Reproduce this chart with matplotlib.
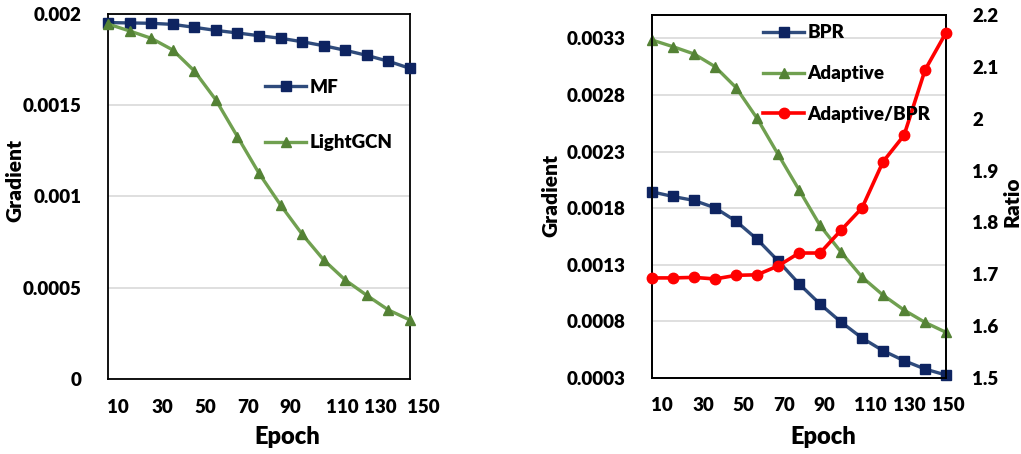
import matplotlib
matplotlib.use("Agg")
import matplotlib.pyplot as plt
import matplotlib.transforms as mtransforms

plt.rcParams["font.family"] = ["Lato", "DejaVu Sans"]
plt.rcParams["font.weight"] = "heavy"
plt.rcParams["axes.labelweight"] = "heavy"

# data
epochs = [10, 20, 30, 40, 50, 60, 70, 80, 90, 100, 110, 120, 130, 140, 150]
mf = [0.001953, 0.001951, 0.001949, 0.001943, 0.001927, 0.001910, 0.001896, 0.001881,
      0.001867, 0.001848, 0.001826, 0.001801, 0.001773, 0.001741, 0.001702]
lightgcn = [0.001945, 0.001907, 0.001867, 0.001803, 0.001688, 0.001529, 0.001328, 0.001127,
            0.000953, 0.000793, 0.000652, 0.000542, 0.000458, 0.000378, 0.000323]
bpr = [0.001944, 0.001903, 0.001868, 0.001803, 0.001685, 0.001526, 0.001335, 0.001132,
       0.000953, 0.000794, 0.000653, 0.000541, 0.000453, 0.000379, 0.000326]
adaptive = [0.003285, 0.003226, 0.003162, 0.003050, 0.002865, 0.002594, 0.002276, 0.001962,
            0.001647, 0.001412, 0.001191, 0.001032, 0.000900, 0.000791, 0.000703]
ratio = [1.693, 1.693, 1.694, 1.691, 1.698, 1.699, 1.716, 1.741,
         1.741, 1.785, 1.828, 1.917, 1.968, 2.094, 2.166]

x_labels = ["10", "30", "50", "70", "90", "110", "130", "150"]
# the epoch labels sit as loose text boxes, slightly off the points
left_label_pos = [14.6, 35.0, 55.0, 74.9, 94.4, 118.5, 136.1, 156.0]
right_label_pos = [14.8, 34.3, 53.3, 72.9, 92.0, 113.8, 132.4, 151.0]
left_yticks = [0, 0.0005, 0.001, 0.0015, 0.002]
left_ylabels = ["0", "0.0005", "0.001", "0.0015", "0.002"]
right_yticks = [0.0003, 0.0008, 0.0013, 0.0018, 0.0023, 0.0028, 0.0033]
ratio_ticks = [1.5, 1.6, 1.7, 1.8, 1.9, 2.0, 2.1, 2.2]
ratio_labels = ["1.5", "1.6", "1.7", "1.8", "1.9", "2", "2.1", "2.2"]

NAVY_LINE = "#2F4B7C"
NAVY_MK = "#0E2461"
GREEN_LINE = "#70A050"
GREEN_MK = "#548235"
RED = "#FF0000"
TICK_FS = 13.5
LABEL_FS = 17

fig = plt.figure(figsize=(10.21, 4.54), dpi=100)
ax1 = fig.add_axes([0.1058, 0.1652, 0.2958, 0.804])
ax2 = fig.add_axes([0.6386, 0.1674, 0.2880, 0.7996])


def style_axis(ax, label_pos):
    ax.set_xlim(10, 150)
    ax.set_xticks([])
    for s in ax.spines.values():
        s.set_color("black")
        s.set_linewidth(1.3)
    ax.grid(axis="y", color="#D9D9D9", linewidth=1.2)
    ax.set_axisbelow(True)
    ax.tick_params(axis="y", length=0, pad=19, labelsize=TICK_FS)
    trans = mtransforms.blended_transform_factory(ax.transData, ax.transAxes)
    for pos, lab in zip(label_pos, x_labels):
        ax.text(pos, -0.077, lab, transform=trans, ha="center", va="center",
                fontsize=TICK_FS, clip_on=False)


# left panel
ax1.plot(epochs, mf, color=NAVY_LINE, lw=2.4, marker="s", ms=7,
         mfc=NAVY_MK, mec=NAVY_MK, label="MF", clip_on=False, zorder=3)
ax1.plot(epochs, lightgcn, color=GREEN_LINE, lw=2.4, marker="^", ms=7,
         mfc=GREEN_MK, mec=GREEN_MK, label="LightGCN", clip_on=False, zorder=3)
ax1.set_ylim(0, 0.002)
ax1.set_yticks(left_yticks)
ax1.set_yticklabels(left_ylabels)
style_axis(ax1, left_label_pos)
ax1.set_xlabel("Epoch", fontsize=LABEL_FS)
ax1.xaxis.set_label_coords(0.593, -0.159)
ax1.xaxis.label.set_va("center")
ax1.set_ylabel("Gradient", fontsize=15)
ax1.yaxis.set_label_coords(-0.308, 0.545)
ax1.yaxis.label.set_va("center")
ax1.legend(loc="upper left", bbox_to_anchor=(0.52, 0.822), frameon=False,
           fontsize=TICK_FS, handlelength=2.2, handletextpad=0.15,
           labelspacing=2.05, borderpad=0, borderaxespad=0)

# right panel
ax2.plot(epochs, bpr, color=NAVY_LINE, lw=2.4, marker="s", ms=7,
         mfc=NAVY_MK, mec=NAVY_MK, label="BPR", clip_on=False, zorder=3)
ax2.plot(epochs, adaptive, color=GREEN_LINE, lw=2.4, marker="^", ms=7,
         mfc=GREEN_MK, mec=GREEN_MK, label="Adaptive", clip_on=False, zorder=3)
ax2.set_ylim(0.0003, 0.003506)
ax2.set_yticks(right_yticks)
ax2.set_yticklabels([f"{v:.4f}" for v in right_yticks])
style_axis(ax2, right_label_pos)
ax2.set_xlabel("Epoch", fontsize=LABEL_FS)
ax2.xaxis.set_label_coords(0.582, -0.163)
ax2.xaxis.label.set_va("center")
ax2.set_ylabel("Gradient", fontsize=15)
ax2.yaxis.set_label_coords(-0.344, 0.504)
ax2.yaxis.label.set_va("center")

ax3 = ax2.twinx()
ax3.plot(epochs, ratio, color=RED, lw=2.6, marker="o", ms=7.5,
         mfc=RED, mec=RED, label="Adaptive/BPR", clip_on=False, zorder=3)
ax3.set_ylim(1.5, 2.2)
ax3.set_yticks(ratio_ticks)
ax3.set_yticklabels(ratio_labels)
ax3.tick_params(axis="y", length=0, pad=19, labelsize=TICK_FS)
for s in ax3.spines.values():
    s.set_linewidth(1.3)
ax3.set_ylabel("Ratio", fontsize=15)
ax3.yaxis.set_label_coords(1.224, 0.485)
ax3.yaxis.label.set_va("center")

h1, l1 = ax2.get_legend_handles_labels()
h2, l2 = ax3.get_legend_handles_labels()
ax3.legend(h1 + h2, l1 + l2, loc="upper left", bbox_to_anchor=(0.378, 0.974),
           frameon=False, fontsize=TICK_FS, handlelength=2.2, handletextpad=0.15,
           labelspacing=1.27, borderpad=0, borderaxespad=0)

fig.savefig("out.png", dpi=100)
